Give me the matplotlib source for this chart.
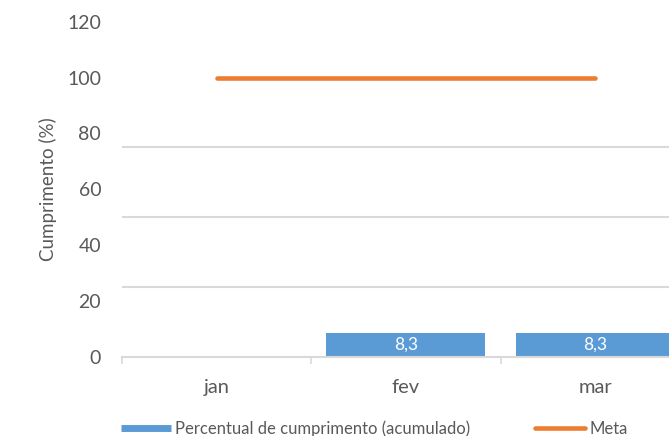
import numpy as np
import matplotlib
matplotlib.use('Agg')
import matplotlib.pyplot as plt
from matplotlib.lines import Line2D

plt.rcParams['font.family'] = ['Lato', 'DejaVu Sans']

months = ['jan', 'fev', 'mar']
cumprimento = [0, 8.3, 8.3]
meta = [100, 100, 100]

blue = '#5B9BD5'
orange = '#ED7D31'
grid_c = '#D9D9D9'
txt_c = '#595959'

W, H = 669, 436
fig = plt.figure(figsize=(W / 100, H / 100), dpi=100)
# plot area runs past the right edge of the figure, like the cropped original
ax = fig.add_axes([122 / W, (H - 356.5) / H, 3 * 189.3 / W, (356.5 - 22) / H])

x = np.arange(len(months))
bars = ax.bar(x, cumprimento, width=0.84, color=blue, zorder=2)
labels = [f'{v:.1f}'.replace('.', ',') if v > 0 else '' for v in cumprimento]
ax.bar_label(bars, labels=labels, label_type='center', color='white', fontsize=12.5)

ax.plot(x, meta, color=orange, lw=3.3, solid_capstyle='round', zorder=3)

ax.set_xlim(-0.5, len(months) - 0.5)
ax.set_ylim(0, 120)

ax.set_yticks(np.arange(0, 121, 20))
ax.set_yticks([25, 50, 75, 100], minor=True)
ax.tick_params(axis='y', which='both', length=0, labelsize=14, labelcolor=txt_c, pad=15)
ax.grid(axis='y', which='minor', color=grid_c, lw=1.5, zorder=0)

ax.set_xticks(np.arange(-0.5, len(months), 1))
ax.set_xticklabels([])
ax.set_xticks(x, minor=True)
ax.set_xticklabels(months, minor=True)
ax.tick_params(axis='x', which='major', length=5, width=1.2, color=grid_c, direction='out')
ax.tick_params(axis='x', which='minor', length=0, labelsize=14.5, labelcolor=txt_c, pad=16)

for s in ['top', 'right', 'left']:
    ax.spines[s].set_visible(False)
ax.spines['bottom'].set_color(grid_c)
ax.spines['bottom'].set_linewidth(1.5)

fig.text(48 / W, 1 - 189.5 / H, 'Cumprimento (%)', rotation=90, ha='center', va='center',
         fontsize=13.5, color=txt_c)

handles = [Line2D([], [], color=blue, lw=5, solid_capstyle='butt'),
           Line2D([], [], color=orange, lw=3.3, solid_capstyle='round')]
fig.legend(handles, ['Percentual de cumprimento (acumulado)', 'Meta'], loc='center left',
           bbox_to_anchor=(121 / W, 1 - 429 / H), ncol=2, frameon=False, fontsize=12,
           labelcolor=txt_c, handlelength=3.0, handletextpad=0.25, columnspacing=3.9,
           borderpad=0, borderaxespad=0)

fig.savefig('out.png', dpi=100)
